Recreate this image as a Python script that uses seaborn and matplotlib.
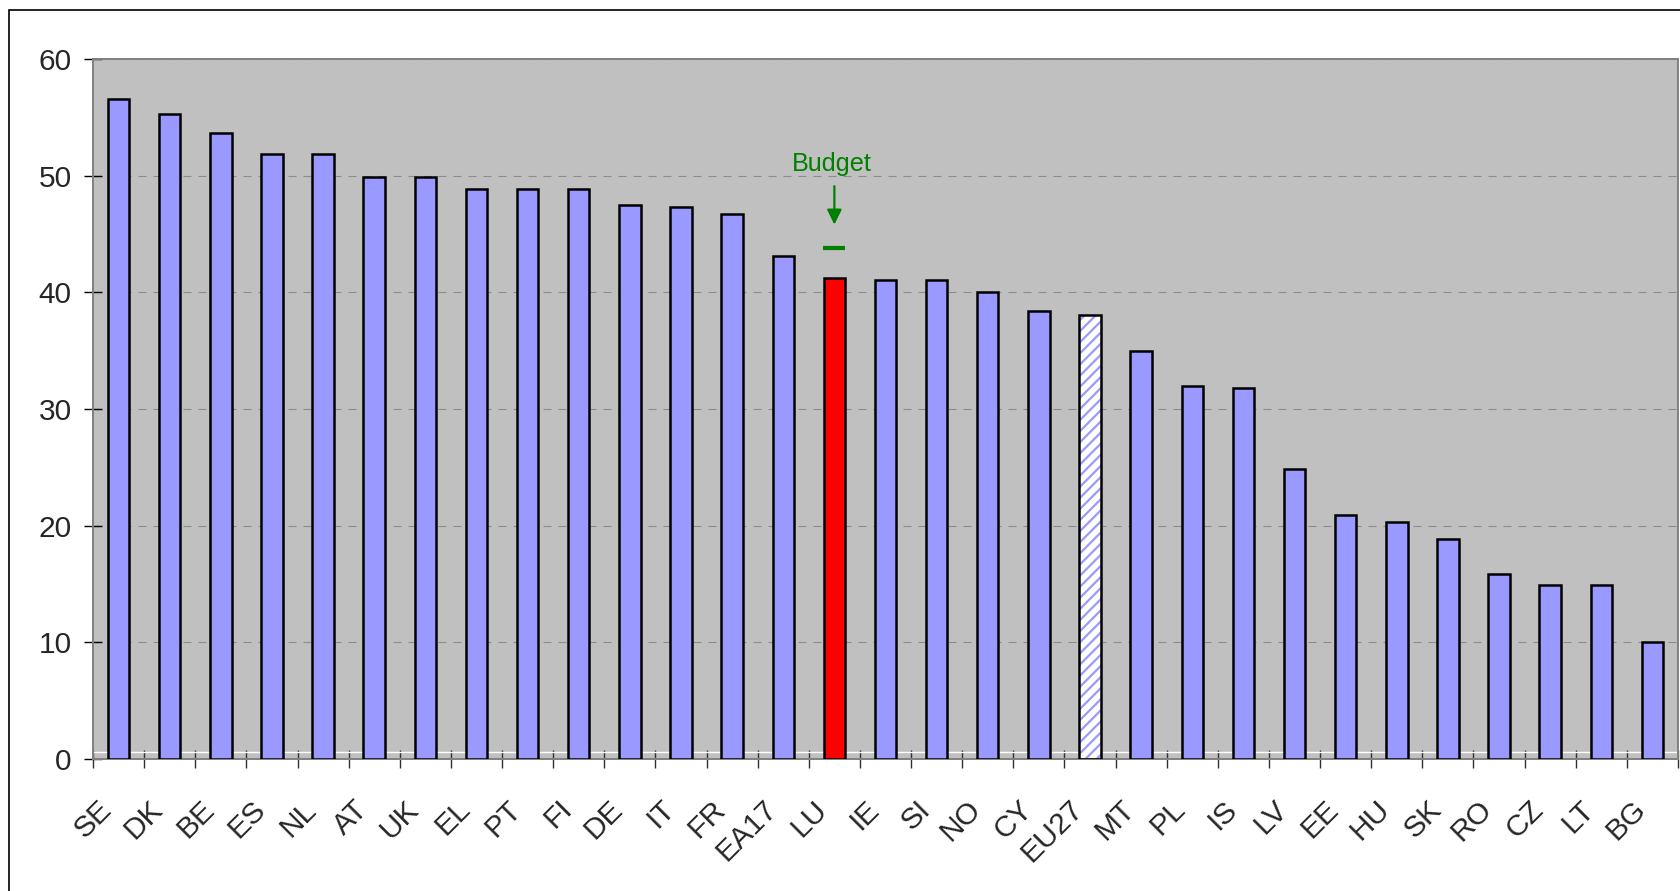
import matplotlib
matplotlib.use("Agg")
import matplotlib.pyplot as plt
import matplotlib.transforms as mtransforms
from matplotlib.patches import Rectangle
from matplotlib.ticker import FixedLocator
import seaborn as sns

# Tax burden by country, % (sorted descending)
countries = ["SE", "DK", "BE", "ES", "NL", "AT", "UK", "EL", "PT", "FI",
             "DE", "IT", "FR", "EA17", "LU", "IE", "SI", "NO", "CY", "EU27",
             "MT", "PL", "IS", "LV", "EE", "HU", "SK", "RO", "CZ", "LT", "BG"]
values = [56.6, 55.3, 53.7, 51.9, 51.9, 49.9, 49.9, 48.9, 48.9, 48.9,
          47.5, 47.3, 46.7, 43.1, 41.2, 41.1, 41.1, 40.0, 38.4, 38.1,
          35.0, 32.0, 31.8, 24.9, 20.9, 20.3, 18.9, 15.9, 14.9, 14.9, 10.0]
highlight = "LU"
aggregate = "EU27"
budget_value = 43.8
budget_label = "Budget"
y_ticks = [0, 10, 20, 30, 40, 50, 60]

BAR = "#9999FF"
RED = "#FF0000"
GREEN = "#008000"
PLOT_BG = "#C0C0C0"
TICK_FS = 21.5

sns.set_style("ticks")
plt.rcParams["font.family"] = ["Liberation Sans", "DejaVu Sans"]
plt.rcParams["hatch.linewidth"] = 1.6

W, H, DPI = 1680, 891, 100
fig = plt.figure(figsize=(W / DPI, H / DPI), dpi=DPI)
fig.patch.set_facecolor("white")
ax = fig.add_axes([93 / W, 1 - 759 / H, (1678 - 93) / W, (759 - 59) / H])
ax.set_facecolor(PLOT_BG)

palette = {c: (RED if c == highlight else BAR) for c in countries}
sns.barplot(x=countries, y=values, hue=countries, palette=palette, legend=False,
            width=0.42, saturation=1, edgecolor="black", linewidth=1.8, ax=ax)

idx_agg = countries.index(aggregate)
idx_hl = countries.index(highlight)
for i, p in enumerate(ax.patches):
    p.set_zorder(3)
    if i == idx_agg:
        p.set_facecolor("none")
        # striped fill underneath the outlined aggregate bar
        ax.bar(p.get_x() + p.get_width() / 2, values[i], width=p.get_width(),
               color="white", hatch="///", edgecolor=BAR, linewidth=0, zorder=2.5)

ax.set_xlim(-0.5, len(countries) - 0.5)
ax.set_ylim(0, 60)

# thin light line just above the baseline
ax.axhline(0.6, color="white", lw=1.0, zorder=1.5)

# gridlines
ax.set_axisbelow(True)
ax.yaxis.grid(True, color="#8c8c8c", lw=0.8, linestyle=(0, (7.2, 6.3)))
ax.xaxis.grid(False)

for s in ax.spines.values():
    s.set_visible(True)
    s.set_color("#808080")
    s.set_linewidth(1.4)

ax.set_yticks(y_ticks)
ax.tick_params(axis="y", which="major", direction="inout", length=13.5,
               width=1.0, color="black", labelsize=TICK_FS, pad=8.5)

ax.xaxis.set_minor_locator(FixedLocator([i - 0.5 for i in range(len(countries) + 1)]))
ax.tick_params(axis="x", which="minor", direction="inout", length=13,
               width=1.0, color="#303030")
ax.tick_params(axis="x", which="major", length=0, labelsize=TICK_FS, pad=0)
ax.set_xticks(range(len(countries)))
ax.set_xticklabels(countries)
off = mtransforms.ScaledTranslation(-21 / DPI, -36 / DPI, fig.dpi_scale_trans)
for lab in ax.get_xticklabels():
    lab.set_rotation(45)
    lab.set_rotation_mode("anchor")
    lab.set_ha("right")
    lab.set_va("top")
    lab.set_transform(lab.get_transform() + off)

ax.set_xlabel("")
ax.set_ylabel("")

# budget marker above the highlighted bar
ax.plot([idx_hl], [budget_value], marker="_", ms=15.5, mew=3.0, color=GREEN,
        linestyle="none", zorder=4)
ax.annotate("", xy=(idx_hl, budget_value + 2.0), xytext=(idx_hl, budget_value + 5.3),
            arrowprops=dict(arrowstyle="-|>,head_length=0.45,head_width=0.22",
                            mutation_scale=20, color=GREEN, lw=1.6,
                            shrinkA=0, shrinkB=0), zorder=4)
ax.text(idx_hl - 0.05, budget_value + 7.2, budget_label, color=GREEN, fontsize=18.2,
        ha="center", va="center", zorder=4)

# outer frame
fig.add_artist(Rectangle((9 / W, -0.1), 1.2, 1.1 - 10 / H, transform=fig.transFigure,
                         fill=False, edgecolor="black", lw=1.2, clip_on=False))

fig.savefig("out.png", dpi=DPI)
